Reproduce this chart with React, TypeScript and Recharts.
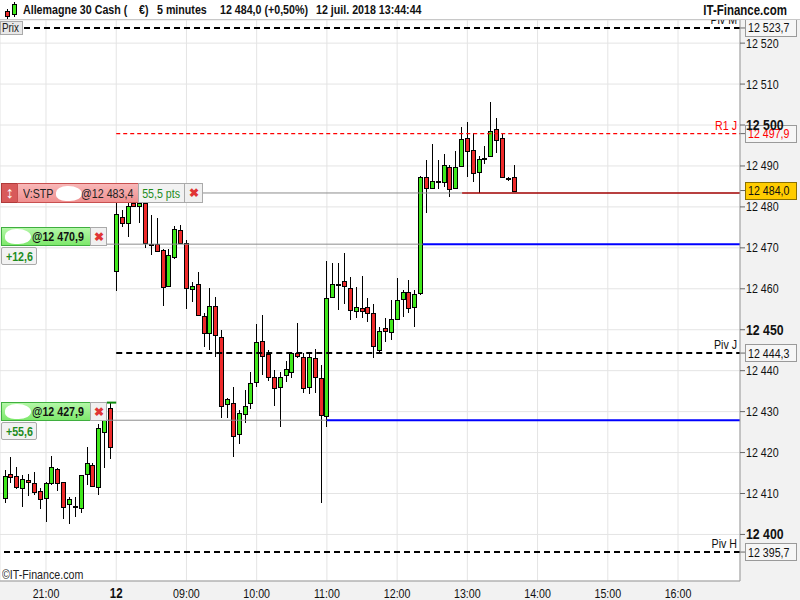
import React from 'react'
import { ComposedChart, Bar, XAxis, YAxis, CartesianGrid, ReferenceLine } from 'recharts'

// 5 minute candles, 11 juil. 20:25 -> 12 juil. 13:40 (session pause 22:00 -> 08:00)
const opens = [
  12408.8, 12414.7, 12414.2, 12411.3, 12413.2, 12412.5, 12410.7, 12408.8, 12412.6, 12415.9,
  12412.7, 12407.4, 12406.9, 12406.4, 12414.7, 12417.0, 12411.6, 12424.9, 12430.8, 12464.4,
  12477.6, 12476.1, 12480.9, 12480.3, 12480.9, 12471.0, 12470.9, 12469.5, 12460.7, 12467.8,
  12474.4, 12471.1, 12459.9, 12461.1, 12453.4, 12449.3, 12455.9, 12448.3, 12431.8, 12432.0,
  12424.5, 12429.3, 12432.2, 12437.3, 12447.3, 12444.0, 12438.4, 12435.9, 12438.9, 12439.6,
  12444.2, 12443.4, 12436.1, 12443.0, 12438.1, 12428.9, 12457.9, 12461.1, 12462.0, 12460.1,
  12454.6, 12455.2, 12455.6, 12454.0, 12445.1, 12450.4, 12449.4, 12452.5, 12457.4, 12459.1,
  12455.5, 12458.9, 12487.2, 12484.7, 12486.4, 12486.0, 12489.8, 12484.5, 12490.0, 12496.8,
  12493.8, 12488.5, 12492.0, 12492.5, 12499.0, 12496.8, 12487.1, 12487.2,
]
const highs = [
  12415.7, 12419.0, 12416.5, 12414.6, 12414.7, 12415.2, 12411.4, 12412.7, 12419.2, 12416.2,
  12412.7, 12409.1, 12409.1, 12414.6, 12421.4, 12417.4, 12426.9, 12432.0, 12432.4, 12481.0,
  12479.2, 12482.2, 12482.0, 12481.5, 12481.4, 12478.0, 12477.2, 12469.7, 12469.7, 12475.4,
  12475.6, 12472.0, 12461.7, 12464.0, 12454.0, 12460.1, 12458.1, 12449.9, 12433.3, 12436.1,
  12430.4, 12435.3, 12439.7, 12451.3, 12453.6, 12445.1, 12440.2, 12439.7, 12442.4, 12444.6,
  12451.6, 12444.3, 12444.6, 12445.3, 12441.4, 12466.8, 12466.2, 12466.2, 12468.8, 12463.0,
  12460.4, 12463.1, 12457.8, 12456.2, 12450.6, 12452.8, 12457.3, 12462.6, 12459.7, 12462.1,
  12459.7, 12487.6, 12491.5, 12495.4, 12491.5, 12492.9, 12490.2, 12493.7, 12499.6, 12500.7,
  12498.0, 12492.4, 12494.9, 12505.7, 12501.6, 12498.0, 12487.4, 12490.2,
]
const lows = [
  12407.8, 12412.6, 12411.1, 12406.8, 12409.5, 12409.6, 12406.2, 12403.1, 12412.1, 12410.6,
  12403.8, 12402.5, 12404.3, 12405.3, 12412.1, 12411.6, 12409.6, 12416.2, 12418.4, 12459.5,
  12475.0, 12472.7, 12479.9, 12476.0, 12469.9, 12468.2, 12469.2, 12455.8, 12460.5, 12467.3,
  12470.9, 12455.0, 12456.8, 12453.4, 12445.9, 12445.1, 12443.4, 12428.4, 12428.4, 12419.0,
  12422.2, 12427.1, 12430.6, 12435.9, 12438.9, 12437.5, 12431.4, 12426.3, 12437.3, 12438.1,
  12443.1, 12434.5, 12434.3, 12434.5, 12407.7, 12426.2, 12457.7, 12454.8, 12456.2, 12452.4,
  12452.8, 12452.8, 12452.0, 12443.0, 12444.2, 12447.1, 12447.5, 12452.4, 12453.2, 12454.0,
  12450.6, 12458.5, 12478.4, 12484.6, 12484.3, 12484.9, 12482.5, 12484.4, 12489.8, 12487.2,
  12486.1, 12483.5, 12490.6, 12492.4, 12493.1, 12487.0, 12486.4, 12483.8,
]
const closes = [
  12414.3, 12414.0, 12411.5, 12413.5, 12412.7, 12410.4, 12408.6, 12412.5, 12416.4, 12412.5,
  12406.8, 12408.7, 12406.8, 12414.5, 12417.4, 12411.9, 12425.9, 12428.0, 12421.3, 12478.2,
  12476.1, 12480.3, 12480.2, 12480.9, 12471.1, 12470.9, 12469.3, 12460.5, 12468.2, 12474.5,
  12471.1, 12460.1, 12460.7, 12453.6, 12449.1, 12455.9, 12448.6, 12431.4, 12433.0, 12424.1,
  12429.6, 12431.4, 12437.1, 12447.1, 12443.6, 12438.5, 12435.7, 12438.5, 12440.3, 12444.2,
  12443.6, 12435.7, 12443.4, 12438.5, 12429.2, 12457.7, 12461.1, 12461.0, 12460.7, 12454.8,
  12455.6, 12454.6, 12454.2, 12446.1, 12449.8, 12449.6, 12452.5, 12457.3, 12459.1, 12455.2,
  12458.7, 12487.4, 12484.5, 12486.3, 12486.3, 12490.2, 12484.4, 12489.7, 12496.5, 12493.6,
  12488.2, 12491.6, 12491.9, 12498.6, 12496.4, 12487.2, 12487.0, 12484.0,
]

const hourTicks = [7, 19, 31, 43, 55, 67, 79, 91, 103, 115]
const hourLabels = ['21:00', '12', '09:00', '10:00', '11:00', '12:00', '13:00', '14:00', '15:00', '16:00']
const priceTicks = [12400, 12410, 12420, 12430, 12440, 12450, 12460, 12470, 12480, 12490, 12500, 12510, 12520]

const pivotNames = ['Piv M', 'R1 J', 'Piv J', 'Piv H']
const pivotValues = [12523.7, 12497.9, 12444.3, 12395.7]
const pivotTexts = ['12 523,7', '12 497,9', '12 444,3', '12 395,7']
const lastPrice = 12484.0
const stopLevel = 12483.4
const orderLevels = [12470.9, 12427.9]

const X_MIN = -0.86
const X_MAX = 125.59
const FONT = "'Liberation Sans', Arial, sans-serif"
const SQUEEZE = 0.82 // the original uses a narrow face
const GREEN = '#40e81c'
const RED = '#ee2a2a'

const candles = opens.map((o, i) => ({
  i,
  o,
  h: highs[i],
  l: lows[i],
  c: closes[i],
  range: [lows[i], highs[i]],
}))

function Candle(props: any) {
  const { x, y, width, height, payload } = props
  const { o, h, l, c } = payload
  const top = Math.min(y, y + height)
  const span = Math.abs(height)
  const k = h === l ? 0 : span / (h - l)
  const cx = Math.round(x + width / 2) + 0.5
  const bTop = Math.round(top + (h - Math.max(o, c)) * k)
  const bBot = Math.round(top + (h - Math.min(o, c)) * k)
  return (
    <g shapeRendering="crispEdges">
      <line x1={cx} x2={cx} y1={top} y2={top + span} stroke="#000" />
      <rect
        x={cx - 2}
        y={bTop + 0.5}
        width={4}
        height={Math.max(1, bBot - bTop)}
        fill={c >= o ? GREEN : RED}
        stroke="#000"
      />
    </g>
  )
}

// svg text squeezed horizontally
function NText({ x, y, children, anchor = 'start', ...rest }: any) {
  return (
    <text
      transform={`translate(${x} ${y}) scale(${SQUEEZE} 1)`}
      textAnchor={anchor}
      fontFamily={FONT}
      {...rest}
    >
      {children}
    </text>
  )
}

function LevelTag(props: any) {
  const { viewBox, name, nameColor = '#111', value, valueColor = '#111', bg = '#f6f6f6', border = '#9a9a9a' } = props
  if (!viewBox) return null
  const right = viewBox.x + viewBox.width
  const y = viewBox.y
  return (
    <g>
      {name && (
        <NText x={right - 3} y={y - 4} anchor="end" fontSize={13} fill={nameColor}>
          {name}
        </NText>
      )}
      <line x1={right} x2={right + 5} y1={y} y2={y} stroke="#666" />
      <rect x={right + 5.5} y={Math.round(y) - 8.5} width={51} height={17} fill={bg} stroke={border} />
      <NText x={right + 8} y={y + 4.5} fontSize={13} fill={valueColor}>
        {value}
      </NText>
    </g>
  )
}

const fmtPrice = (v: number) => `${Math.floor(v / 1000)} ${String(v % 1000).padStart(3, '0')}`

function PriceTick(props: any) {
  const { x, y, payload } = props
  const bold = payload.value % 50 === 0
  return (
    <NText
      x={x}
      y={y + (bold ? 5 : 4.5)}
      fontSize={bold ? 15 : 13}
      fontWeight={bold ? 'bold' : 'normal'}
      fill="#111"
    >
      {fmtPrice(payload.value)}
    </NText>
  )
}

function HourTick(props: any) {
  const { x, y, payload } = props
  const label = hourLabels[hourTicks.indexOf(payload.value)]
  const day = label === '12'
  return (
    <NText
      x={x}
      y={y + 15}
      anchor="middle"
      fontSize={day ? 14 : 13}
      fontWeight={day ? 'bold' : 'normal'}
      fill="#111"
    >
      {label}
    </NText>
  )
}

function Narrow({ children, origin = 'left center', style }: any) {
  return (
    <span style={{ display: 'inline-block', transform: `scaleX(${SQUEEZE})`, transformOrigin: origin, ...style }}>
      {children}
    </span>
  )
}

const box = (extra: React.CSSProperties): React.CSSProperties => ({
  position: 'absolute',
  boxSizing: 'border-box',
  display: 'flex',
  alignItems: 'center',
  fontFamily: FONT,
  fontSize: 13,
  whiteSpace: 'nowrap',
  ...extra,
})

function Blob({ left, top }: { left: number; top: number }) {
  return (
    <div
      style={{
        position: 'absolute',
        left,
        top,
        width: 26,
        height: 15,
        background: '#fff',
        borderRadius: '45% 55% 50% 40%',
      }}
    />
  )
}

function OrderBox({ top, price, gain }: { top: number; price: string; gain: string }) {
  return (
    <>
      <div
        style={box({
          left: 1,
          top,
          width: 90,
          height: 19,
          background: 'linear-gradient(#b4f7a8, #7ee86c)',
          border: '1px solid #3fae3f',
          fontWeight: 'bold',
          color: '#111',
        })}
      >
        <Blob left={3} top={1} />
        <Narrow style={{ position: 'absolute', left: 30 }}>@{price}</Narrow>
      </div>
      <div
        style={box({
          left: 90,
          top,
          width: 17,
          height: 19,
          background: '#f0f0f0',
          border: '1px solid #aaa',
          justifyContent: 'center',
          color: '#e03535',
          fontSize: 12,
          fontWeight: 'bold',
        })}
      >
        ✖
      </div>
      <div
        style={box({
          left: 1,
          top: top + 20,
          width: 36,
          height: 18,
          background: '#f2f2f2',
          border: '1px solid #aaa',
          borderRadius: 2,
          justifyContent: 'center',
          color: '#1e8c1e',
          fontWeight: 'bold',
        })}
      >
        <Narrow origin="center">{gain}</Narrow>
      </div>
    </>
  )
}

const head = (left: number): React.CSSProperties => ({ position: 'absolute', left, top: 2 })

export default function App() {
  return (
    <div
      style={{
        position: 'absolute',
        left: 0,
        top: 0,
        width: 800,
        height: 600,
        background: '#f2f2f2',
        overflow: 'hidden',
        fontFamily: FONT,
      }}
    >
      <div style={{ position: 'absolute', left: 0, top: 20 }}>
        <ComposedChart width={800} height={580} data={candles} margin={{ top: 0, right: 0, bottom: 0, left: 0 }}>
          <CartesianGrid stroke="#e4e4e4" fill="#fff" />
          <XAxis
            dataKey="i"
            type="number"
            domain={[X_MIN, X_MAX]}
            ticks={hourTicks}
            tick={<HourTick />}
            tickLine={false}
            tickSize={0}
            height={19}
            axisLine={{ stroke: '#9a9a9a' }}
            allowDataOverflow
          />
          <YAxis
            orientation="right"
            type="number"
            domain={[12388.63, 12525.65]}
            ticks={priceTicks}
            tick={<PriceTick />}
            tickSize={5}
            tickMargin={1}
            tickLine={{ stroke: '#666' }}
            axisLine={{ stroke: '#9a9a9a' }}
            width={60}
            allowDataOverflow
          />
          <Bar dataKey="range" shape={<Candle />} barSize={5} isAnimationActive={false} />

          {/* pivots */}
          <ReferenceLine
            y={pivotValues[0]}
            stroke="#000"
            strokeWidth={2}
            strokeDasharray="6 4"
            label={<LevelTag name={pivotNames[0]} value={pivotTexts[0]} />}
          />
          <ReferenceLine
            segment={[{ x: 19, y: pivotValues[1] }, { x: X_MAX, y: pivotValues[1] }]}
            ifOverflow="visible"
            stroke="#ff0000"
            strokeWidth={1.3}
            strokeDasharray="4 3"
            label={<LevelTag name={pivotNames[1]} nameColor="#ff0000" value={pivotTexts[1]} valueColor="#ff0000" />}
          />
          <ReferenceLine
            segment={[{ x: 19, y: pivotValues[2] }, { x: X_MAX, y: pivotValues[2] }]}
            ifOverflow="visible"
            stroke="#000"
            strokeWidth={2}
            strokeDasharray="6 4"
            label={<LevelTag name={pivotNames[2]} value={pivotTexts[2]} />}
          />
          <ReferenceLine
            y={pivotValues[3]}
            stroke="#000"
            strokeWidth={2}
            strokeDasharray="6 4"
            label={<LevelTag name={pivotNames[3]} value={pivotTexts[3]} />}
          />

          {/* orders */}
          <ReferenceLine
            segment={[{ x: 33.7, y: stopLevel }, { x: 78.1, y: stopLevel }]}
            ifOverflow="visible"
            stroke="#8c8c8c"
          />
          <ReferenceLine
            segment={[{ x: 78.1, y: stopLevel }, { x: X_MAX, y: stopLevel }]}
            ifOverflow="visible"
            stroke="#a00000"
            strokeWidth={1.3}
          />
          <ReferenceLine
            y={lastPrice}
            stroke="none"
            label={<LevelTag value="12 484,0" bg="#ffcc00" border="#8a7000" />}
          />
          <ReferenceLine
            segment={[{ x: 17.4, y: orderLevels[0] }, { x: 71.4, y: orderLevels[0] }]}
            ifOverflow="visible"
            stroke="#8c8c8c"
          />
          <ReferenceLine
            segment={[{ x: 71.4, y: orderLevels[0] }, { x: X_MAX, y: orderLevels[0] }]}
            ifOverflow="visible"
            stroke="#0000ff"
            strokeWidth={2}
          />
          <ReferenceLine
            segment={[{ x: 17.4, y: orderLevels[1] }, { x: 55, y: orderLevels[1] }]}
            ifOverflow="visible"
            stroke="#8c8c8c"
          />
          <ReferenceLine
            segment={[{ x: 55, y: orderLevels[1] }, { x: X_MAX, y: orderLevels[1] }]}
            ifOverflow="visible"
            stroke="#0000ff"
            strokeWidth={2}
          />
          <ReferenceLine
            segment={[{ x: 17.4, y: 12432.2 }, { x: 19, y: 12432.2 }]}
            ifOverflow="visible"
            stroke="#0a8a0a"
            strokeWidth={2}
          />
        </ComposedChart>
      </div>

      {/* header */}
      <div
        style={{
          position: 'absolute',
          left: 0,
          top: 0,
          width: 800,
          height: 20,
          background: '#fff',
          borderBottom: '1px solid #c8c8c8',
          boxSizing: 'border-box',
          fontWeight: 'bold',
          fontSize: 13,
          color: '#111',
          whiteSpace: 'nowrap',
        }}
      >
        <svg width={20} height={20} style={{ position: 'absolute', left: 2, top: 0 }}>
          <line x1={5.5} x2={5.5} y1={9} y2={19} stroke="#000" />
          <rect x={3.5} y={11.5} width={4} height={5} fill={RED} stroke="#000" />
          <line x1={12.5} x2={12.5} y1={2} y2={17} stroke="#000" />
          <rect x={10.5} y={4.5} width={4} height={10} fill={GREEN} stroke="#000" />
        </svg>
        <Narrow style={head(23)}>Allemagne 30 Cash (</Narrow>
        <Narrow style={head(139)}>€)</Narrow>
        <Narrow style={head(157)}>5 minutes</Narrow>
        <Narrow style={head(220)}>12 484,0 (+0,50%)</Narrow>
        <Narrow style={head(316)}>12 juil. 2018 13:44:44</Narrow>
        <Narrow origin="right center" style={{ position: 'absolute', right: 13, top: 2, fontSize: 14 }}>
          IT-Finance.com
        </Narrow>
      </div>

      <div
        style={box({
          left: 0,
          top: 21,
          width: 23,
          height: 14,
          background: '#e8e8e8',
          border: '1px solid #aaa',
          fontSize: 12,
          paddingLeft: 1,
          color: '#222',
        })}
      >
        <Narrow>Prix</Narrow>
      </div>

      {/* stop order */}
      <div
        style={box({
          left: 1,
          top: 183,
          width: 17,
          height: 20,
          background: '#d85a5a',
          border: '1px solid #b03a3a',
          justifyContent: 'center',
          color: '#fff',
          fontWeight: 'bold',
          fontSize: 16,
        })}
      >
        ↕
      </div>
      <div
        style={box({
          left: 17,
          top: 183,
          width: 122,
          height: 20,
          background: 'linear-gradient(#f8b8b8, #f09090)',
          border: '1px solid #c85050',
          color: '#222',
        })}
      >
        <Narrow style={{ position: 'absolute', left: 5 }}>V:STP</Narrow>
        <Blob left={38} top={2} />
        <Narrow style={{ position: 'absolute', left: 63 }}>@12 483,4</Narrow>
      </div>
      <div
        style={box({
          left: 138,
          top: 183,
          width: 47,
          height: 20,
          background: '#f2f2f2',
          border: '1px solid #aaa',
          justifyContent: 'center',
          color: '#1e8c1e',
        })}
      >
        <Narrow origin="center">55,5 pts</Narrow>
      </div>
      <div
        style={box({
          left: 184,
          top: 183,
          width: 19,
          height: 20,
          background: '#f0f0f0',
          border: '1px solid #aaa',
          justifyContent: 'center',
          color: '#e03535',
          fontSize: 12,
          fontWeight: 'bold',
        })}
      >
        ✖
      </div>

      <OrderBox top={227} price="12 470,9" gain="+12,6" />
      <OrderBox top={402} price="12 427,9" gain="+55,6" />

      <Narrow style={{ position: 'absolute', left: 2, top: 567, fontSize: 13, color: '#222' }}>©IT-Finance.com</Narrow>
    </div>
  )
}
